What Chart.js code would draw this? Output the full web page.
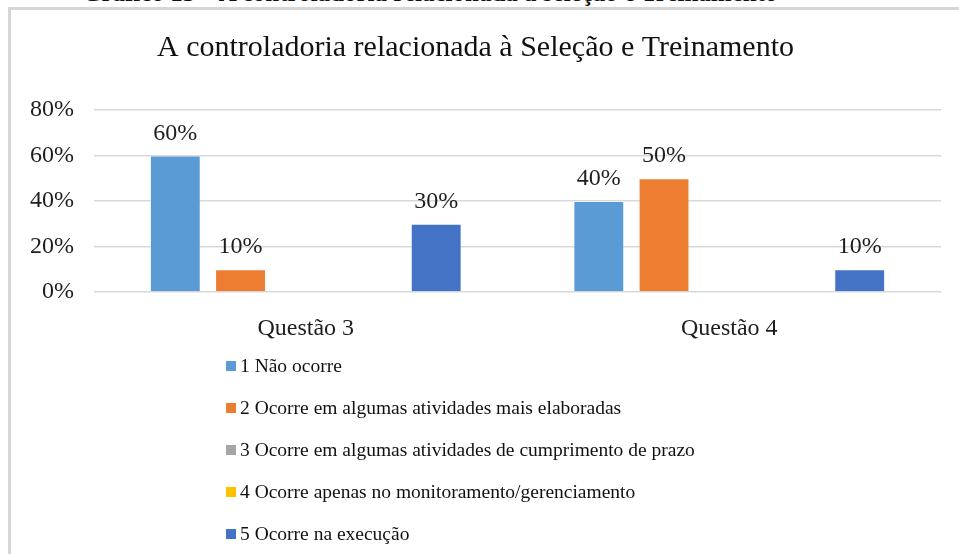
<!DOCTYPE html>
<html>
<head>
<meta charset="utf-8">
<title>Seleção e Treinamento</title>
<script src="https://cdn.jsdelivr.net/npm/chart.js@4.4.1/dist/chart.umd.min.js"></script>
<style>
  body{margin:0;background:#fff;width:959px;height:554px;overflow:hidden;position:relative;font-family:"Liberation Serif","Times New Roman",serif;}
  #caption{position:absolute;left:82px;top:-20px;font-size:25px;font-weight:bold;line-height:25px;color:#111;white-space:nowrap;}
  #frame{position:absolute;left:8px;top:7px;width:1000px;height:600px;border-left:3px solid #d6d6d6;border-top:3px solid #d6d6d6;}
  #myChart{position:absolute;left:0;top:0;}
  #legend{position:absolute;left:226px;top:345px;margin:0;padding:0;list-style:none;}
  #legend li{height:42px;line-height:42px;font-size:19.5px;color:#111;white-space:nowrap;}
  #legend span{display:inline-block;width:10px;height:10px;margin-right:4px;vertical-align:middle;position:relative;top:-2px;}
</style>
</head>
<body>
<div id="caption">Gráfico 13 – A controladoria relacionada à seleção e Treinamento</div>
<div id="frame"></div>
<canvas id="myChart" width="959" height="554"></canvas>
<ul id="legend"></ul>
<script>
// data (percent)
var categories = ["Questão 3", "Questão 4"];
var seriesNames = [
  "1 Não ocorre",
  "2 Ocorre em algumas atividades mais elaboradas",
  "3 Ocorre em algumas atividades de cumprimento de prazo",
  "4 Ocorre apenas no monitoramento/gerenciamento",
  "5 Ocorre na execução"
];
var naoOcorre = [60, 40];
var maisElaboradas = [10, 50];
var cumprimentoPrazo = [0, 0];
var monitoramento = [0, 0];
var execucao = [30, 10];
var yTicks = [0, 20, 40, 60, 80];
var colors = ["#5B9BD5", "#ED7D31", "#A5A5A5", "#FFC000", "#4472C4"];

var values = [naoOcorre, maisElaboradas, cumprimentoPrazo, monitoramento, execucao];
var datasets = [];
for (var i = 0; i < values.length; i++) {
  datasets.push({
    label: seriesNames[i],
    data: values[i],
    backgroundColor: colors[i],
    borderColor: "rgba(255,255,255,0.35)",
    borderWidth: 1,
    categoryPercentage: 0.77,
    barPercentage: 0.78
  });
}

// value labels above bars
var barLabels = {
  id: 'barLabels',
  afterDatasetsDraw: function(chart) {
    var ctx = chart.ctx;
    ctx.save();
    ctx.font = '24px "Liberation Serif", serif';
    ctx.fillStyle = '#1e1e1e';
    ctx.textAlign = 'center';
    ctx.textBaseline = 'alphabetic';
    chart.data.datasets.forEach(function(ds, di) {
      var meta = chart.getDatasetMeta(di);
      meta.data.forEach(function(bar, j) {
        if (ds.data[j] > 0) ctx.fillText(ds.data[j] + '%', bar.x, bar.y - 16);
      });
    });
    ctx.restore();
  }
};

var ctx = document.getElementById('myChart').getContext('2d');
var chart = new Chart(ctx, {
  type: 'bar',
  data: { labels: categories, datasets: datasets },
  options: {
    responsive: false,
    animation: false,
    layout: { padding: { top: 0, left: 10, right: 18, bottom: 214 } },
    plugins: {
      legend: { display: false },
      tooltip: { enabled: false },
      title: {
        display: true,
        text: 'A controladoria relacionada à Seleção e Treinamento',
        color: '#111',
        font: { family: '"Liberation Serif", serif', size: 30, weight: 'normal' },
        padding: { top: 30, bottom: 44 }
      }
    },
    scales: {
      x: {
        grid: { display: false },
        border: { display: false },
        ticks: { color: '#1e1e1e', padding: 14, font: { family: '"Liberation Serif", serif', size: 24 } },
        afterFit: function(s) { s.height = 48; }
      },
      y: {
        min: 0, max: 80,
        grid: { color: '#d9d9d9', lineWidth: 1.5, drawTicks: false },
        border: { display: false },
        afterBuildTicks: function(s) { s.ticks = yTicks.map(function(v) { return { value: v }; }); },
        ticks: {
          color: '#1e1e1e', padding: 20,
          font: { family: '"Liberation Serif", serif', size: 24 },
          callback: function(v) { return v + '%'; }
        },
        afterFit: function(s) { s.width = 84; }
      }
    }
  },
  plugins: [barLabels]
});

// legend stacked vertically under the plot, like the original
var ul = document.getElementById('legend');
chart.data.datasets.forEach(function(ds) {
  var li = document.createElement('li');
  var sw = document.createElement('span');
  sw.style.background = ds.backgroundColor;
  li.appendChild(sw);
  li.appendChild(document.createTextNode(ds.label));
  ul.appendChild(li);
});
</script>
</body>
</html>
